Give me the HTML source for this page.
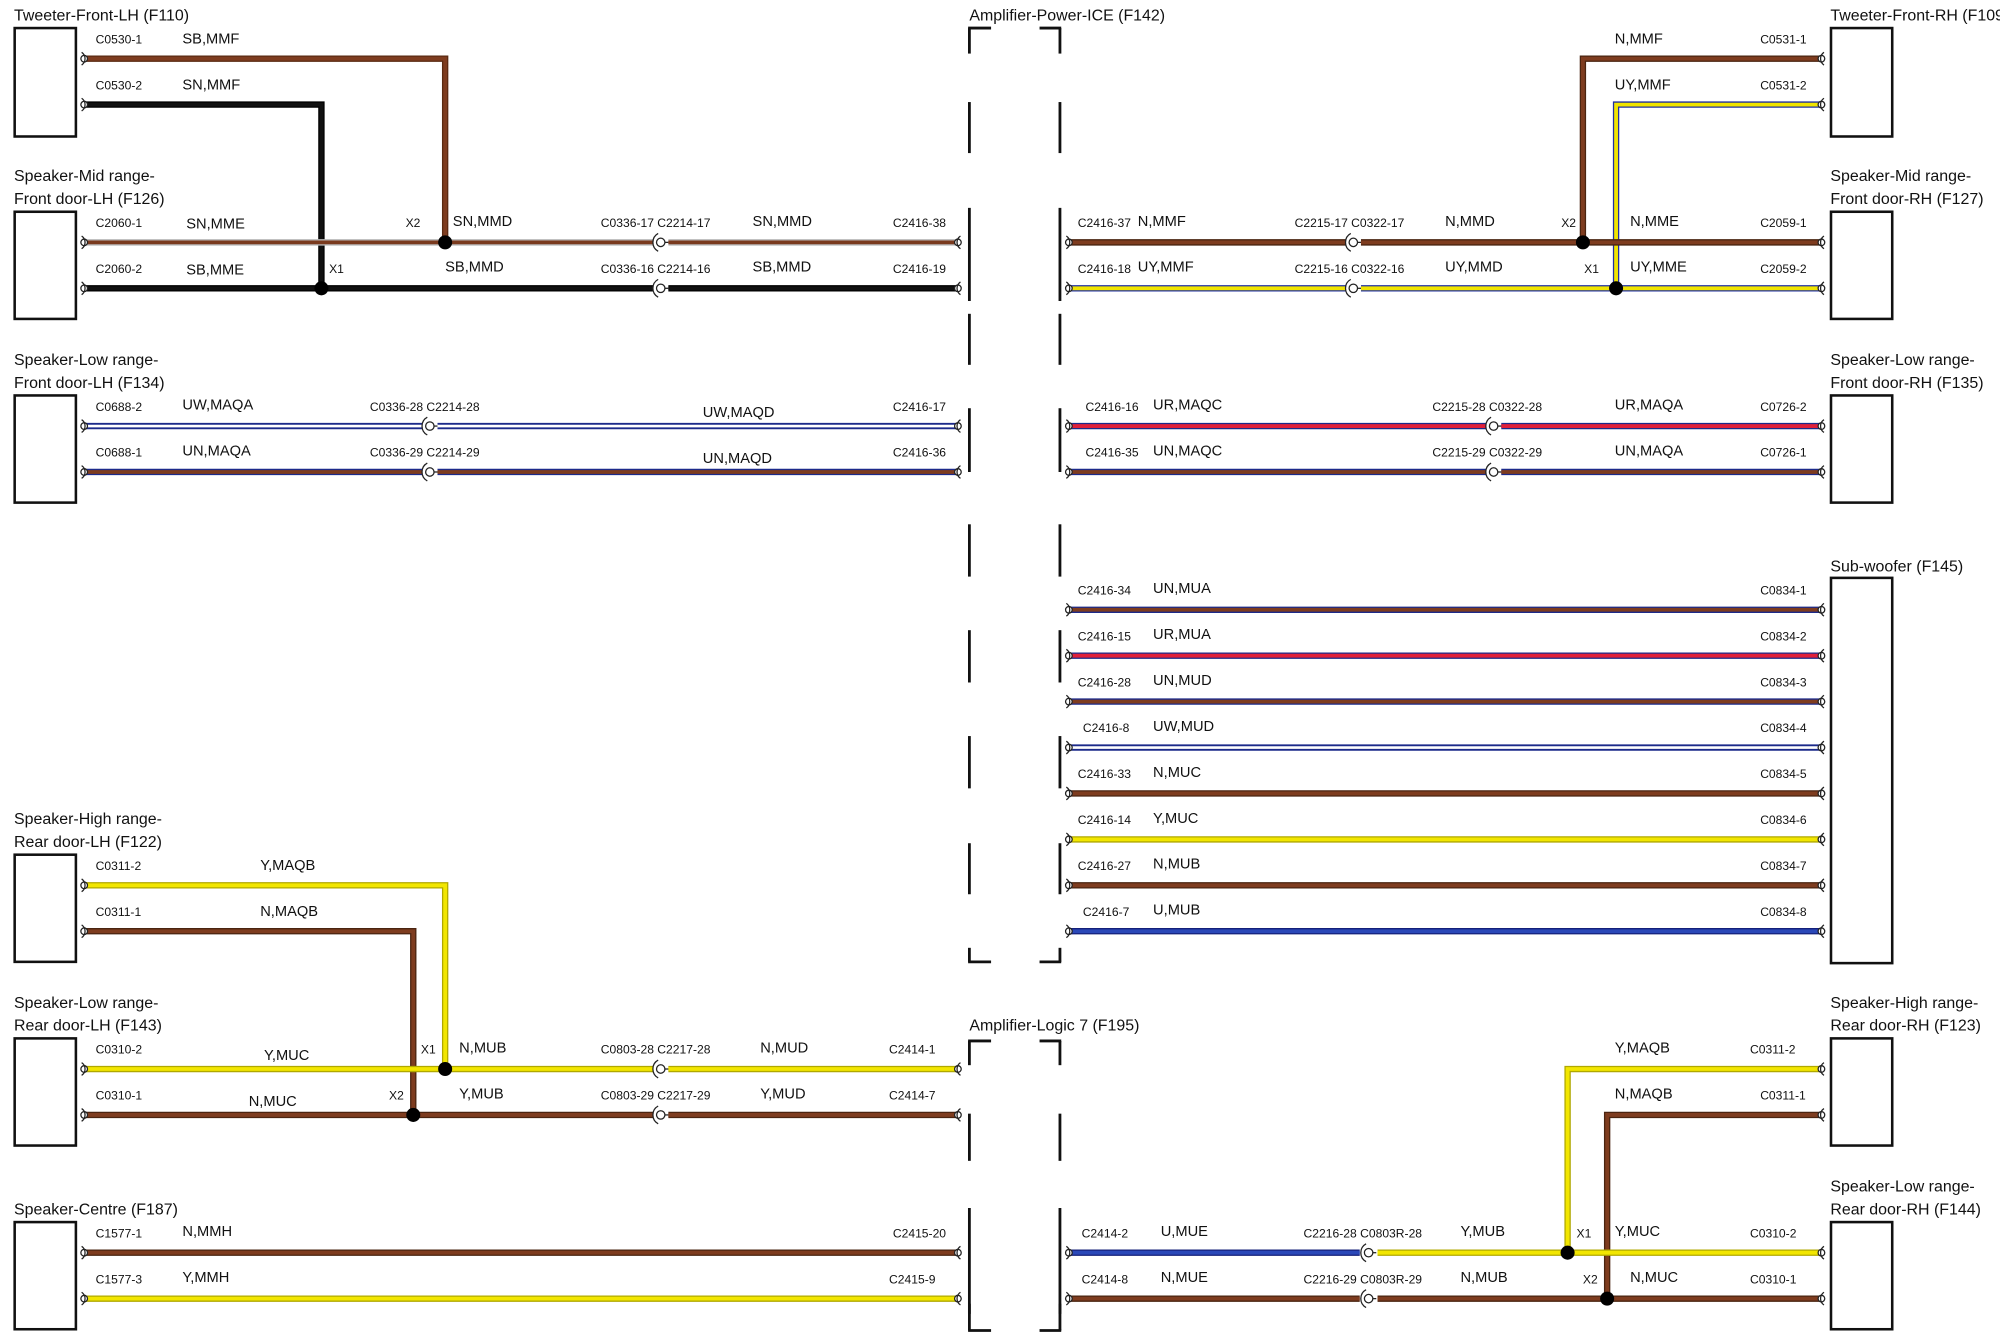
<!DOCTYPE html>
<html><head><meta charset="utf-8"><style>
html,body{margin:0;padding:0;background:#fff;}
svg{display:block;}
text{font-family:"Liberation Sans",Arial,sans-serif;fill:#111;}
.t{font-size:12.5px;}
.c{font-size:9.5px;}
.w{font-size:11.5px;}
</style></head><body>
<svg id="dg" xmlns="http://www.w3.org/2000/svg" width="2000" height="1342" viewBox="0 0 1568 1052" preserveAspectRatio="none">
<g id="boxes"></g><g id="amps"></g><g id="wires"></g><g id="labels"></g>
</svg>
<script>
// wire color styles: [outer, inner]
const styles = {
  N:["#4a2410","#7e3c1f"], SB:["#5a2a12","#7e3c1f"], BK:["#000","#111"],
  SN:["#b8b8b8","#7a3a1e"], Y:["#b0a800","#f2e600"], UY:["#2030a0","#f0e400"],
  UW:["#1c2a8a","#ffffff"], UN:["#1c2a8a","#7e3c1f"], UR:["#1c2a8a","#e0203a"],
  U:["#14207a","#2a48b8"]
};
// wires: [style, points...]
const wireStyles = ["SB","BK","SN","BK","UW","UN","Y","N","Y","N","N","Y",
 "N","UY","N","UY","UR","UN","UN","UR","UN","UW","N","Y","N","U","Y","N","U","Y","N"];
const wirePaths = [
 [[66,46],[349,46],[349,190]],
 [[66,82],[252,82],[252,226]],
 [[66,190],[512,190]],[[66,226],[512,226]],
 [[66,334],[331,334]],[[66,370],[331,370]],
 [[66,694],[349,694],[349,838]],
 [[66,730],[324,730],[324,874]],
 [[66,838],[512,838]],[[66,874],[512,874]],
 [[66,982],[750,982]],[[66,1018],[750,1018]],
 [[1428,46],[1241,46],[1241,190]],
 [[1428,82],[1267,82],[1267,226]],
 [[838,190],[1055,190]],[[838,226],[1055,226]],
 [[838,334],[1165,334]],[[838,370],[1165,370]],
 [[838,478],[1428,478]],[[838,514],[1428,514]],[[838,550],[1428,550]],[[838,586],[1428,586]],
 [[838,622],[1428,622]],[[838,658],[1428,658]],[[838,694],[1428,694]],[[838,730],[1428,730]],
 [[1428,838],[1229,838],[1229,982]],
 [[1428,874],[1260,874],[1260,1018]],
 [[838,982],[1066,982]],[[1080,982],[1428,982]],
 [[838,1018],[1066,1018]]
];
// continuation segments after inline connectors
const contStyles = ["SN","BK","UW","UN","Y","N","N","UY","UR","UN","N"];
const contPaths = [[[524,190],[750,190]],[[524,226],[750,226]],[[343,334],[750,334]],[[343,370],[750,370]],
 [[524,838],[750,838]],[[524,874],[750,874]],[[1067,190],[1428,190]],[[1067,226],[1428,226]],
 [[1177,334],[1428,334]],[[1177,370],[1428,370]],[[1080,1018],[1428,1018]]];
const inlineConn = [[517,190],[517,226],[336,334],[336,370],[517,838],[517,874],[1060,190],[1060,226],[1170,334],[1170,370],[1072,982],[1072,1018]];
const dots = [[349,190],[252,226],[349,838],[324,874],[1241,190],[1267,226],[1229,982],[1260,1018]];
const endLeft = [46,82,190,226,334,370,694,730,838,874,982,1018];
const endRightL = [190,226,334,370,838,874,982,1018];
const endLeftR = [190,226,334,370,478,514,550,586,622,658,694,730,982,1018];
const endRightR = [46,82,190,226,334,370,478,514,550,586,622,658,694,730,838,874,982,1018];
const leftBoxes = [[22,107],[166,250],[310,394],[670,754],[814,898],[958,1042]];
const rightBoxes = [[22,107],[166,250],[310,394],[453,755],[814,898],[958,1042]];
const titles = [
 ["Tweeter-Front-LH (F110)",11,16],["Speaker-Mid range-",11,142],["Front door-LH (F126)",11,160],
 ["Speaker-Low range-",11,286],["Front door-LH (F134)",11,304],["Speaker-High range-",11,646],
 ["Rear door-LH (F122)",11,664],["Speaker-Low range-",11,790],["Rear door-LH (F143)",11,808],
 ["Speaker-Centre (F187)",11,952],["Amplifier-Power-ICE (F142)",760,16],["Amplifier-Logic 7 (F195)",760,808],
 ["Tweeter-Front-RH (F109)",1435,16],["Speaker-Mid range-",1435,142],["Front door-RH (F127)",1435,160],
 ["Speaker-Low range-",1435,286],["Front door-RH (F135)",1435,304],["Sub-woofer (F145)",1435,448],
 ["Speaker-High range-",1435,790],["Rear door-RH (F123)",1435,808],["Speaker-Low range-",1435,934],["Rear door-RH (F144)",1435,952]
];
const connLabels = [
 ["C0530-1",75,34],["C0530-2",75,70],["C2060-1",75,178],["X2",318,178],["C0336-17 C2214-17",471,178],["C2416-38",700,178],
 ["C2060-2",75,214],["X1",258,214],["C0336-16 C2214-16",471,214],["C2416-19",700,214],
 ["C0688-2",75,322],["C0336-28 C2214-28",290,322],["C2416-17",700,322],
 ["C0688-1",75,358],["C0336-29 C2214-29",290,358],["C2416-36",700,358],
 ["C0311-2",75,682],["C0311-1",75,718],
 ["C0310-2",75,826],["X1",330,826],["C0803-28 C2217-28",471,826],["C2414-1",697,826],
 ["C0310-1",75,862],["X2",305,862],["C0803-29 C2217-29",471,862],["C2414-7",697,862],
 ["C1577-1",75,970],["C2415-20",700,970],["C1577-3",75,1006],["C2415-9",697,1006],
 ["C0531-1",1380,34],["C0531-2",1380,70],
 ["C2416-37",845,178],["C2215-17 C0322-17",1015,178],["X2",1224,178],["C2059-1",1380,178],
 ["C2416-18",845,214],["C2215-16 C0322-16",1015,214],["X1",1242,214],["C2059-2",1380,214],
 ["C2416-16",851,322],["C2215-28 C0322-28",1123,322],["C0726-2",1380,322],
 ["C2416-35",851,358],["C2215-29 C0322-29",1123,358],["C0726-1",1380,358],
 ["C2416-34",845,466],["C0834-1",1380,466],["C2416-15",845,502],["C0834-2",1380,502],
 ["C2416-28",845,538],["C0834-3",1380,538],["C2416-8",849,574],["C0834-4",1380,574],
 ["C2416-33",845,610],["C0834-5",1380,610],["C2416-14",845,646],["C0834-6",1380,646],
 ["C2416-27",845,682],["C0834-7",1380,682],["C2416-7",849,718],["C0834-8",1380,718],
 ["C0311-2",1372,826],["C0311-1",1380,862],
 ["C2414-2",848,970],["C2216-28 C0803R-28",1022,970],["X1",1236,970],["C0310-2",1372,970],
 ["C2414-8",848,1006],["C2216-29 C0803R-29",1022,1006],["X2",1241,1006],["C0310-1",1372,1006]
];
const wireLabels = [
 ["SB,MMF",143,34],["SN,MMF",143,70],["SN,MME",146,179],["SN,MMD",355,177],["SN,MMD",590,177],
 ["SB,MME",146,215],["SB,MMD",349,213],["SB,MMD",590,213],["UW,MAQA",143,321],["UW,MAQD",551,327],
 ["UN,MAQA",143,357],["UN,MAQD",551,363],["Y,MAQB",204,682],["N,MAQB",204,718],
 ["Y,MUC",207,831],["N,MUB",360,825],["N,MUD",596,825],["N,MUC",195,867],["Y,MUB",360,861],["Y,MUD",596,861],
 ["N,MMH",143,969],["Y,MMH",143,1005],
 ["N,MMF",1266,34],["UY,MMF",1266,70],["N,MMF",892,177],["N,MMD",1133,177],["N,MME",1278,177],
 ["UY,MMF",892,213],["UY,MMD",1133,213],["UY,MME",1278,213],
 ["UR,MAQC",904,321],["UR,MAQA",1266,321],["UN,MAQC",904,357],["UN,MAQA",1266,357],
 ["UN,MUA",904,465],["UR,MUA",904,501],["UN,MUD",904,537],["UW,MUD",904,573],["N,MUC",904,609],
 ["Y,MUC",904,645],["N,MUB",904,681],["U,MUB",904,717],
 ["Y,MAQB",1266,825],["N,MAQB",1266,861],
 ["U,MUE",910,969],["Y,MUB",1145,969],["Y,MUC",1266,969],["N,MUE",910,1005],["N,MUB",1145,1005],["N,MUC",1278,1005]
];
const NS="http://www.w3.org/2000/svg";
function mk(tag,parent,attrs){const e=document.createElementNS(NS,tag);for(const k in attrs)e.setAttribute(k,attrs[k]);document.getElementById(parent).appendChild(e);return e;}
function drawWire(pts,st,name){
  const d="M"+pts.map(p=>p.join(",")).join(" L");
  const s=styles[st];
  const o=mk("path","wires",{d:d,fill:"none",stroke:s[0],"stroke-width":5});
  
  
  const i=mk("path","wires",{d:d,fill:"none",stroke:s[1],"stroke-width":st==="UW"?2:3});
  
  
}
wirePaths.forEach((p,k)=>drawWire(p,wireStyles[k],'wire-'+k));
contPaths.forEach((p,k)=>drawWire(p,contStyles[k],'wire-cont-'+k));
function pin(x,y,dir){
  const g=mk("g","wires",{});
  
  
  const c=document.createElementNS(NS,"circle");c.setAttribute("cx",x);c.setAttribute("cy",y);c.setAttribute("r",2.6);c.setAttribute("fill","#fff");c.setAttribute("stroke","#222");c.setAttribute("stroke-width",1);g.appendChild(c);
  const a=document.createElementNS(NS,"path");a.setAttribute("d",dir>0?`M${x-2},${y-5} A6,6 0 0 1 ${x-2},${y+5}`:`M${x+2},${y-5} A6,6 0 0 0 ${x+2},${y+5}`);a.setAttribute("fill","none");a.setAttribute("stroke","#222");a.setAttribute("stroke-width",1);g.appendChild(a);
}
endLeft.forEach(y=>pin(66,y,1));
endRightL.forEach(y=>pin(751,y,-1));
endLeftR.forEach(y=>pin(838,y,1));
endRightR.forEach(y=>pin(1428,y,-1));
inlineConn.forEach(([x,y])=>{
  const g=mk("g","wires",{});
  
  
  g.innerHTML=`<path d="M${x-1},${y-7} A8,8 0 0 0 ${x-1},${y+7}" fill="none" stroke="#222" stroke-width="1"/><circle cx="${x+1}" cy="${y}" r="3.3" fill="#fff" stroke="#222" stroke-width="1"/><path d="M${x+4},${y} L${x+7},${y}" stroke="#222" stroke-width="1"/>`;
});
dots.forEach(([x,y])=>{
  const c=mk("circle","wires",{cx:x,cy:y,r:5.5,fill:"#000"});
  
  
});
leftBoxes.forEach(([a,b])=>{
  const r=mk("rect","boxes",{x:11.5,y:a,width:48,height:b-a,fill:"#fff",stroke:"#111","stroke-width":2});
  
  
});
rightBoxes.forEach(([a,b])=>{
  const r=mk("rect","boxes",{x:1435.5,y:a,width:48,height:b-a,fill:"#fff",stroke:"#111","stroke-width":2});
  
  
});
// amplifier dashed brackets
function amp(top,bot,dashes){
  [760,831].forEach(x=>{
    dashes.forEach(([a,b])=>{
      const l=mk("line","amps",{x1:x,y1:a,x2:x,y2:b,stroke:"#111","stroke-width":2.2});
      
      
    });
  });
  [[759,777],[815,832]].forEach(([a,b])=>{
    [top,bot].forEach(y=>{
      const l=mk("line","amps",{x1:a,y1:y,x2:b,y2:y,stroke:"#111","stroke-width":2.2});
      
      
    });
  });
}
const amp1Dashes=[[22,42],[80,120],[163,236],[246,286],[320,370],[411,452],[494,535],[577,618],[661,701],[743,754]];
amp(22,754,amp1Dashes);
amp(816,1043,[[816,835],[873,910],[947,1030],[1022,1043]]);
titles.forEach(([t,x,y])=>{
  const e=mk("text","labels",{x:x,y:y,class:"t"});e.textContent=t;
  
  
});
connLabels.forEach(([t,x,y])=>{
  const e=mk("text","labels",{x:x,y:y,class:"c"});e.textContent=t;
  
  
});
wireLabels.forEach(([t,x,y])=>{
  const e=mk("text","labels",{x:x,y:y,class:"w"});e.textContent=t;
  
  
});
</script>
</body></html>
